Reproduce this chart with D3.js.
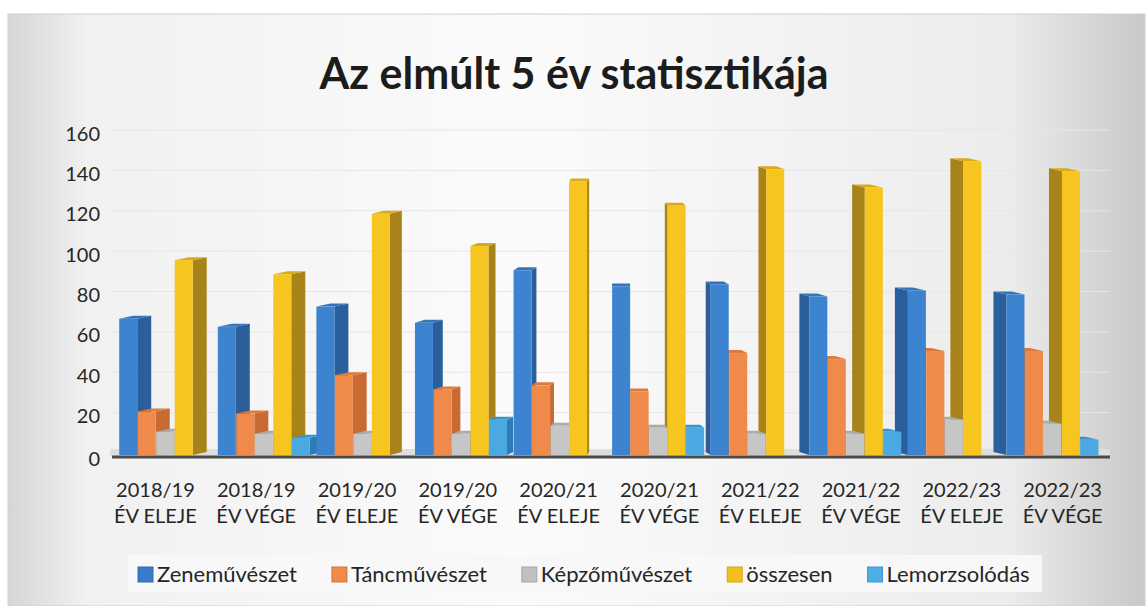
<!DOCTYPE html>
<html>
<head>
<meta charset="utf-8">
<script src="https://cdn.jsdelivr.net/npm/d3@7"></script>
<style>
  body { margin: 0; background: #fff; }
  svg { display: block; font-family: Lato, "Open Sans", sans-serif; }
</style>
</head>
<body>
<div id="chart"></div>
<script>
const title = "Az elmúlt 5 év statisztikája";
const catYears = ["2018/19", "2018/19", "2019/20", "2019/20", "2020/21", "2020/21", "2021/22", "2021/22", "2022/23", "2022/23"];
const catPhases = ["ÉV ELEJE", "ÉV VÉGE", "ÉV ELEJE", "ÉV VÉGE", "ÉV ELEJE", "ÉV VÉGE", "ÉV ELEJE", "ÉV VÉGE", "ÉV ELEJE", "ÉV VÉGE"];
const seriesNames = ["Zeneművészet", "Táncművészet", "Képzőművészet", "összesen", "Lemorzsolódás"];
const zene = [68, 64, 74, 66, 92, 84, 85, 79, 82, 80];
const tanc = [22, 21, 40, 33, 35, 32, 51, 48, 52, 52];
const kepzo = [12, 11, 11, 11, 15, 14, 11, 11, 18, 16];
const osszes = [97, 90, 120, 104, 136, 124, 142, 133, 146, 141];
const lemorz = [0, 9, 0, 18, 0, 14, 0, 12, 0, 8];
const yTicks = [0, 20, 40, 60, 80, 100, 120, 140, 160];

const seriesValues = [zene, tanc, kepzo, osszes, lemorz];
// front / side / top colours per series
const fronts = ["#3c84cf", "#f08a4b", "#c6c6c6", "#f7c51f", "#4aa9e1"];
const sides = ["#2a5f9c", "#c86b33", "#9c9c9c", "#a8831a", "#2d7cb4"];
const tops = ["#3274bd", "#dc7a3e", "#ababab", "#d9aa17", "#3b93cc"];
const legendColors = ["#3a7ac8", "#f08a48", "#c0c0c0", "#f2c01d", "#4caee4"];

const W = 1147, H = 606;
const svg = d3.select("#chart").append("svg").attr("width", W).attr("height", H);

// background panel
const defs = svg.append("defs");
const bg = defs.append("linearGradient").attr("id", "bg");
bg.append("stop").attr("offset", "0%").attr("stop-color", "#d6d6d6");
bg.append("stop").attr("offset", "7%").attr("stop-color", "#f1f1f1");
bg.append("stop").attr("offset", "45%").attr("stop-color", "#fbfbfb");
bg.append("stop").attr("offset", "88%").attr("stop-color", "#ececec");
bg.append("stop").attr("offset", "100%").attr("stop-color", "#c8c8c8");
svg.append("rect").attr("x", 8).attr("y", 14).attr("width", 1137).attr("height", 592)
    .attr("fill", "url(#bg)").attr("stroke", "#d0d0d0");

const y = d3.scaleLinear().domain([0, 160]).range([456, 133]);
const x0 = d3.scaleBand().domain(d3.range(catYears.length)).range([105, 1113]);
const fw = 18;
const xs = d3.scalePoint().domain(d3.range(seriesNames.length)).range([0, 4 * 18.5]);
const vanish = 620;

// gridlines
svg.append("g").selectAll("line").data(yTicks.slice(1)).join("line")
    .attr("x1", 112).attr("x2", 1110)
    .attr("y1", d => y(d) - 3).attr("y2", d => y(d) - 3)
    .attr("stroke", "#e6e6e6").attr("stroke-width", 1);

// floor
svg.append("rect").attr("x", 110).attr("y", y(0) - 7).attr("width", 1000).attr("height", 7)
    .attr("fill", "#dedede");

// y axis
const yAxis = svg.append("g").attr("transform", "translate(102,0)")
    .call(d3.axisLeft(y).tickValues(yTicks).tickSize(0).tickPadding(2));
yAxis.select(".domain").remove();
yAxis.selectAll("text").attr("font-size", 20).attr("font-family", "Lato, sans-serif")
    .attr("fill", "#262626").attr("dy", "0.35em")
    .attr("y", d => (d === 0 ? 2 : 0));

// bars
const bars = [];
seriesValues.forEach((vals, j) => {
  vals.forEach((v, i) => {
    if (!v) return;
    const cx = x0(i) + x0.bandwidth() / 2;
    const shift = (vanish - cx) * 0.022;
    const x = x0(i) + 8 + shift + xs(j) - 4;
    const sw = Math.max(-13, Math.min(14, (vanish - (x + fw / 2)) * 0.05));
    bars.push({ i, j, v, x, sw, dist: Math.abs(x + fw / 2 - vanish) });
  });
});
bars.sort((a, b) => b.dist - a.dist);

const barG = svg.append("g");
bars.forEach(b => {
  const g = barG.append("g");
  const yt = y(b.v), yb = y(0) - 1, d = 3;
  const xr = b.x + fw;
  if (b.sw >= 0) {
    g.append("polygon")
        .attr("points", [[xr, yt], [xr + b.sw, yt - d], [xr + b.sw, yb - d], [xr, yb]].join(" "))
        .attr("fill", sides[b.j]);
  } else {
    g.append("polygon")
        .attr("points", [[b.x, yt], [b.x + b.sw, yt - d], [b.x + b.sw, yb - d], [b.x, yb]].join(" "))
        .attr("fill", sides[b.j]);
  }
  g.append("polygon")
      .attr("points", [[b.x, yt], [xr, yt], [xr + b.sw, yt - d], [b.x + b.sw, yt - d]].join(" "))
      .attr("fill", tops[b.j]);
  g.append("rect").attr("x", b.x).attr("y", yt).attr("width", fw).attr("height", yb - yt)
      .attr("fill", fronts[b.j]);
});

// x axis line
svg.append("line").attr("x1", 112).attr("x2", 1110).attr("y1", y(0) + 1).attr("y2", y(0) + 1)
    .attr("stroke", "#4a4a4a").attr("stroke-width", 3);

// category labels
const xAxis = svg.append("g").attr("transform", `translate(0,${y(0)})`)
    .call(d3.axisBottom(x0).tickSize(0).tickFormat(() => ""));
xAxis.select(".domain").remove();
xAxis.selectAll(".tick text").each(function (d) {
  const t = d3.select(this).attr("font-size", 20).attr("font-family", "Lato, sans-serif")
      .attr("fill", "#262626").attr("y", 0).attr("dy", null);
  t.append("tspan").attr("x", 0).attr("y", 41).text(catYears[d]);
  t.append("tspan").attr("x", 0).attr("y", 67).text(catPhases[d]);
});

// title
svg.append("text").attr("x", 574).attr("y", 89).attr("text-anchor", "middle")
    .attr("font-size", 43).attr("font-weight", "bold").attr("fill", "#1c1c1c")
    .text(title);

// legend
svg.append("rect").attr("x", 128).attr("y", 555).attr("width", 914).attr("height", 37)
    .attr("fill", "#f8f8f8");
const leg = svg.append("g");
let lx = 138;
seriesNames.forEach((name, j) => {
  leg.append("rect").attr("x", lx).attr("y", 567).attr("width", 15).attr("height", 15)
      .attr("fill", legendColors[j]).attr("stroke", d3.color(legendColors[j]).darker(0.4));
  const t = leg.append("text").attr("x", lx + 19).attr("y", 582)
      .attr("font-size", 22).attr("fill", "#262626").text(name);
  lx += 19 + t.node().getComputedTextLength() + 35;
});
</script>
</body>
</html>
